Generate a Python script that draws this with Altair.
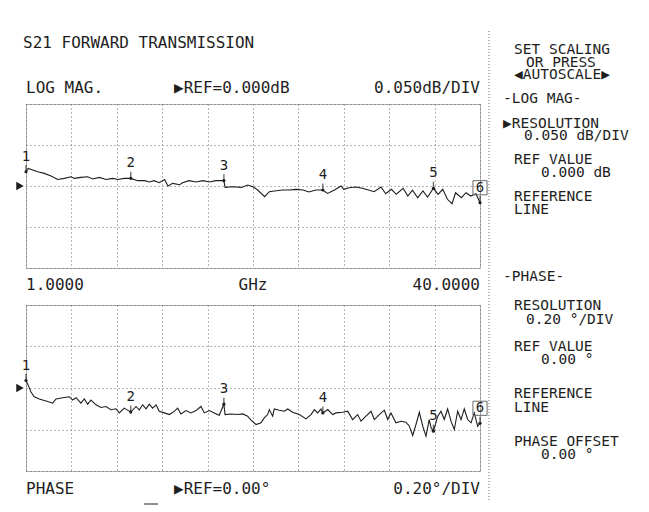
import altair as alt
import pandas as pd

FONT = "DejaVu Sans Mono"
INK = "#1e1e1e"
GRID = "#6a6a6a"
BG = "#ffffff"

# ---------------- data ----------------
f_start, f_stop = 1.0, 40.0
start_label, unit_label, stop_label = "1.0000", "GHz", "40.0000"
x_grid = [1.0, 4.9, 8.8, 12.7, 16.6, 20.5, 24.4, 28.3, 32.2, 36.1, 40.0]
mag_grid = [-0.1, -0.05, 0.0, 0.05, 0.1]
phase_grid = [-0.4, -0.2, 0.0, 0.2, 0.4]

mag_freq = [1.0, 1.2, 1.58, 2.0, 2.57, 3.15, 3.72, 4.29, 4.87, 5.15,
            5.72, 6.30, 6.73, 7.30, 7.87, 8.45, 8.88, 9.44, 10.0, 10.6,
            11.2, 11.6, 12.0, 12.45, 12.9, 13.2, 13.6, 14.2, 14.45, 15.0,
            15.6, 16.2, 16.75, 17.3, 18.0, 18.1, 18.75, 19.5, 20.05, 20.5,
            20.9, 21.5, 21.9, 22.5, 23.05, 23.6, 24.2, 24.8, 25.3, 25.9,
            26.5, 26.9, 27.5, 28.06, 28.3, 28.76, 29.35, 29.9, 30.5, 30.9,
            31.5, 31.9, 32.4, 32.8, 33.4, 33.8, 34.2, 34.65, 35.1, 35.5,
            36.0, 36.4, 36.8, 37.2, 37.6, 37.9, 38.4, 38.8, 39.2, 39.65,
            40.0]
mag_db = [0.0174, 0.0215, 0.0195, 0.0174, 0.0154, 0.0122, 0.0080, 0.0093, 0.0113, 0.0093,
          0.0105, 0.0113, 0.0085, 0.0105, 0.0080, 0.0093, 0.0080, 0.0093, 0.0093, 0.0065,
          0.0065, 0.0049, 0.0065, 0.0040, 0.0080, 0.0000, 0.0032, 0.0016, 0.0040, 0.0065,
          0.0049, 0.0065, 0.0049, 0.0065, 0.0065, -0.0017, -0.0009, -0.0017, 0.0012, -0.0009,
          -0.0049, -0.0130, -0.0070, -0.0057, -0.0049, -0.0049, -0.0041, -0.0049, -0.0073, -0.0049,
          -0.0049, -0.0090, -0.0049, 0.0000, -0.0040, -0.0021, -0.0012, -0.0028, -0.0052, -0.0070,
          -0.0012, -0.0094, -0.0040, -0.0101, -0.0028, -0.0122, -0.0052, -0.0143, -0.0061, -0.0134,
          -0.0028, -0.0101, -0.0040, -0.0162, -0.0216, -0.0082, -0.0143, -0.0082, -0.0122, -0.0094,
          -0.0204]

phase_freq = [1.0, 1.2, 1.43, 1.71, 2.14, 2.72, 3.29, 3.58, 4.15, 4.72,
              5.01, 5.30, 5.72, 6.01, 6.30, 6.58, 7.01, 7.44, 7.87, 8.30,
              8.73, 9.01, 9.44, 9.79, 10.0, 10.45, 10.73, 11.02, 11.31, 11.59,
              11.88, 12.17, 12.45, 12.88, 13.31, 13.74, 14.03, 14.31, 14.74, 15.17,
              15.60, 16.03, 16.32, 16.75, 17.17, 17.60, 18.0, 18.1, 18.61, 19.19,
              19.62, 20.04, 20.33, 20.76, 21.19, 21.47, 21.76, 21.90, 22.19, 22.33,
              22.76, 23.19, 23.48, 23.91, 24.48, 25.05, 25.48, 25.77, 26.06, 26.34,
              26.5, 26.92, 27.35, 27.63, 28.21, 28.63, 29.06, 29.49, 29.78, 30.21,
              30.64, 30.92, 31.35, 31.78, 32.07, 32.35, 32.78, 33.21, 33.64, 33.93,
              34.22, 34.50, 34.79, 35.08, 35.36, 35.64, 35.8, 36.0, 36.37, 36.65,
              36.93, 37.22, 37.51, 37.79, 38.08, 38.37, 38.65, 38.94, 39.23, 39.51,
              39.80, 40.0]
phase_deg = [0.036, 0.0125, -0.019, -0.042, -0.053, -0.0625, -0.073, -0.053, -0.047, -0.042,
             -0.058, -0.047, -0.073, -0.053, -0.078, -0.058, -0.081, -0.094, -0.089, -0.105,
             -0.100, -0.120, -0.097, -0.109, -0.116, -0.089, -0.105, -0.081, -0.100, -0.078,
             -0.097, -0.081, -0.1125, -0.120, -0.128, -0.1125, -0.097, -0.125, -0.109, -0.120,
             -0.109, -0.089, -0.120, -0.109, -0.120, -0.131, -0.078, -0.128, -0.125, -0.128,
             -0.125, -0.136, -0.155, -0.176, -0.168, -0.144, -0.128, -0.104, -0.136, -0.101,
             -0.107, -0.112, -0.101, -0.117, -0.128, -0.149, -0.128, -0.104, -0.120, -0.101,
             -0.120, -0.104, -0.128, -0.120, -0.117, -0.112, -0.152, -0.128, -0.160, -0.136,
             -0.112, -0.152, -0.128, -0.107, -0.152, -0.120, -0.168, -0.160, -0.165, -0.184,
             -0.229, -0.176, -0.117, -0.184, -0.232, -0.152, -0.192, -0.208, -0.136, -0.112,
             -0.152, -0.101, -0.160, -0.200, -0.112, -0.152, -0.101, -0.152, -0.168, -0.120,
             -0.184, -0.170]

marker_labels = ["1", "2", "3", "4", "5", "6"]
marker_freq = [1.0, 10.0, 18.0, 26.5, 36.0, 40.0]
active_marker = "6"

menu_lines = [
    ("SET SCALING", 488, -50), ("OR PRESS", 500, -37), ("\u25c0AUTOSCALE\u25b6", 488, -25),
    ("-LOG MAG-", 477, -1), ("\u25b6RESOLUTION", 477, 24), ("0.050 dB/DIV", 498, 36),
    ("REF VALUE", 488, 60), ("0.000 dB", 515, 73),
    ("REFERENCE", 488, 97), ("LINE", 488, 110),
    ("-PHASE-", 477, 177), ("RESOLUTION", 488, 206), ("0.20 \u00b0/DIV", 500, 220),
    ("REF VALUE", 488, 247), ("0.00 \u00b0", 515, 260),
    ("REFERENCE", 488, 294), ("LINE", 488, 308),
    ("PHASE OFFSET", 488, 342), ("0.00 \u00b0", 515, 355),
]

W = 454
H_TOP = 164
H_BOT = 166


def text(s, x, y, align="left", size=16):
    return alt.Chart(alt.Data(values=[{}])).mark_text(
        text=s, x=x, y=y, align=align, baseline="alphabetic",
        font=FONT, fontSize=size, color=INK)


def panel(freqs, vals, grid_vals, h, labels):
    df = pd.DataFrame({"f": freqs, "v": vals})
    lookup = dict(zip(freqs, vals))
    dm = pd.DataFrame({"f": marker_freq,
                       "v": [lookup[f] for f in marker_freq],
                       "m": marker_labels})
    x = alt.X("f:Q", scale=alt.Scale(domain=[f_start, f_stop], nice=False, zero=False),
              axis=alt.Axis(values=x_grid, grid=True, gridDash=[1, 3], gridColor=GRID,
                            gridWidth=1, gridOpacity=1, labels=False, ticks=False,
                            domain=False, title=None))
    y = alt.Y("v:Q", scale=alt.Scale(domain=[grid_vals[0], grid_vals[-1]], nice=False, zero=False),
              axis=alt.Axis(values=grid_vals, grid=True, gridDash=[1, 3], gridColor=GRID,
                            gridWidth=1, gridOpacity=1, labels=False, ticks=False,
                            domain=False, title=None))
    line = alt.Chart(df).mark_line(color=INK, strokeWidth=1.1).encode(x=x, y=y)
    base_m = alt.Chart(dm).encode(x=x, y=y)
    ticks = base_m.mark_tick(orient="vertical", size=7, thickness=1.3, yOffset=-3, color=INK)
    dots = base_m.mark_point(filled=True, size=10, color=INK, opacity=1)
    mtext = base_m.mark_text(dy=-15, font=FONT, fontSize=14, color=INK).encode(text="m:N")
    box = base_m.transform_filter(alt.datum.m == active_marker).mark_point(
        shape="square", filled=False, size=200, yOffset=-15, color=GRID, strokeWidth=1, opacity=1)
    refp = alt.Chart(pd.DataFrame({"f": [f_start], "v": [0.0]})).mark_point(
        shape="triangle-right", filled=True, size=75, color=INK, opacity=1).encode(
        x=alt.value(-6), y=y)
    layers = [line, ticks, dots, mtext, box, refp] + labels
    return alt.layer(*layers).properties(width=W, height=h)


top_labels = [
    text("S21 FORWARD TRANSMISSION", -3, -56),
    text("LOG MAG.", 0, -11),
    text("\u25b6REF=0.000dB", 148, -11),
    text("0.050dB/DIV", W, -11, align="right"),
    text(start_label, 0, 186),
    text(unit_label, W / 2, 186, align="center"),
    text(stop_label, W, 186, align="right"),
    alt.Chart(alt.Data(values=[{}])).mark_rule(color=GRID, strokeDash=[1, 2], strokeWidth=1).encode(
        x=alt.value(463), y=alt.value(-73), y2=alt.value(397)),
] + [text(s, px, py, size=14.5) for s, px, py in menu_lines]

bot_labels = [
    text("PHASE", 0, 189),
    text("\u25b6REF=0.00\u00b0", 148, 189),
    text("0.20\u00b0/DIV", W, 189, align="right"),
    alt.Chart(alt.Data(values=[{}])).mark_rule(color=INK, strokeWidth=1).encode(
        x=alt.value(118), x2=alt.value(132), y=alt.value(199)),
]

top = panel(mag_freq, mag_db, mag_grid, H_TOP, top_labels)
bot = panel(phase_freq, phase_deg, phase_grid, H_BOT, bot_labels)

chart = alt.vconcat(top, bot, spacing=37, bounds="flush").properties(
    background=BG,
    padding={"left": 7, "top": 22, "right": 0, "bottom": 0},
).configure_view(stroke=GRID, strokeDash=[1, 1], strokeWidth=1)

chart.save("out.html", embed_options={"renderer": "svg", "actions": False})
